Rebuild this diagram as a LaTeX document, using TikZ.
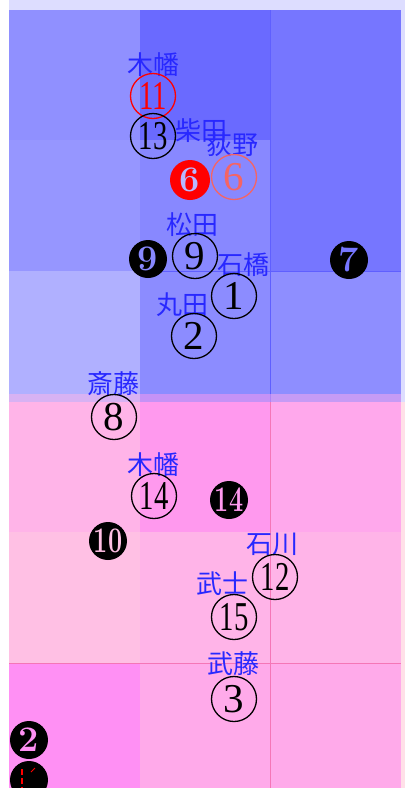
\documentclass[tikz,border=0pt]{standalone}
\usepackage{fontspec}
\newfontfamily\cjk{Noto Sans CJK JP}
\newfontfamily\dig{Liberation Serif}
\definecolor{lblue}{RGB}{40,40,255}
\definecolor{lav}{RGB}{221,221,255}
\definecolor{lpink}{RGB}{255,224,232}
\definecolor{bA}{RGB}{144,144,255}
\definecolor{bB}{RGB}{106,106,255}
\definecolor{bC}{RGB}{118,118,255}
\definecolor{bD}{RGB}{150,150,255}
\definecolor{bE}{RGB}{136,136,255}
\definecolor{bF}{RGB}{176,176,255}
\definecolor{bG}{RGB}{140,140,255}
\definecolor{bH}{RGB}{142,142,255}
\definecolor{pA}{RGB}{255,180,232}
\definecolor{pB}{RGB}{255,153,238}
\definecolor{pC}{RGB}{255,168,236}
\definecolor{pD}{RGB}{255,192,228}
\definecolor{pE}{RGB}{255,180,232}
\definecolor{pF}{RGB}{255,144,244}
\definecolor{pG}{RGB}{255,170,234}
\definecolor{salmon}{RGB}{245,100,100}
\tikzset{
  lbl/.style={text=lblue,inner sep=0pt,font=\cjk\fontsize{26}{26}\selectfont},
  ring/.style={circle,draw,line width=1.3pt,minimum size=45pt,inner sep=0pt,font=\dig\fontsize{41}{41}\selectfont},
  disc/.style={circle,fill=black,minimum size=38pt,inner sep=0pt,font=\bfseries\fontsize{36}{36}\selectfont},
  gline/.style={line width=0.8pt}
}
\newcommand{\nn}[1]{\scalebox{0.7}[1]{#1}}
\begin{document}
\begin{tikzpicture}[x=1pt,y=-1pt]
\useasboundingbox (0,0) rectangle (405,788);
\fill[white] (0,0) rectangle (405,788);
\fill[lav] (9,0) rectangle (405,10);
\fill[lav] (401,0) rectangle (405,402);
\fill[lpink] (401,402) rectangle (405,788);
% blue half
\fill[bA] (9,10) rectangle (140,140);
\fill[bB] (140,10) rectangle (270,140);
\fill[bC] (270,10) rectangle (401,271);
\fill[bD] (9,140) rectangle (140,271);
\fill[bE] (140,140) rectangle (270,271);
\fill[bF] (9,271) rectangle (140,402);
\fill[bG] (140,271) rectangle (270,402);
\fill[bH] (270,271) rectangle (401,402);
\draw[gline,color=blue!30!bE] (270,10) -- (270,402);
\draw[gline,color=blue!30!bE] (140,271) -- (401,271);
% pink half
\fill[pA,opacity=0.5] (9,394) rectangle (140,402);
\fill[pB,opacity=0.5] (140,394) rectangle (270,402);
\fill[pC,opacity=0.5] (270,394) rectangle (401,402);
\fill[pA] (9,402) rectangle (140,532);
\fill[pB] (140,402) rectangle (270,532);
\fill[pC] (270,402) rectangle (401,532);
\fill[pD] (9,532) rectangle (140,663);
\fill[pE] (140,532) rectangle (401,663);
\fill[pF] (9,663) rectangle (140,788);
\fill[pG] (140,663) rectangle (401,788);
\draw[gline,color=magenta!35!pE] (270,402) -- (270,788);
\draw[gline,color=magenta!35!pE] (9,663) -- (401,663);
% labels
\node[lbl] (l1) at (153,65) {木幡};
\node[lbl] (l2) at (201,131) {柴田};
\node[lbl] (l3) at (232,145) {荻野};
\node[lbl] (l4) at (192,225) {松田};
\node[lbl] (l5) at (243,265) {石橋};
\node[lbl] (l6) at (182,305) {丸田};
\node[lbl] (l7) at (113,384) {斎藤};
\node[lbl] (l8) at (153,465) {木幡};
\node[lbl] (l9) at (272,544) {石川};
\node[lbl] (l10) at (222,584) {武士};
\node[lbl] (l11) at (233,664) {武藤};
% rings
\node[ring,draw=red,text=red] (r11) at (153,96) {\nn{11}};
\node[ring] (r13) at (153,136) {\nn{13}};
\node[ring,draw=salmon,text=salmon] (r6) at (234,177) {6};
\node[ring] (r9) at (195,256) {9};
\node[ring] (r1) at (234,296) {1};
\node[ring] (r2) at (194,336) {2};
\node[ring] (r8) at (114,417) {8};
\node[ring] (r14) at (154,496) {\nn{14}};
\node[ring] (r12) at (275,577) {\nn{12}};
\node[ring] (r15) at (234,617) {\nn{15}};
\node[ring] (r3) at (234,699) {3};
% discs
\node[disc,fill=red,minimum size=40pt,text=bE!60!white] (d6) at (190,180) {6};
\node[disc,text=bE] (d9) at (148,259) {9};
\node[disc,text=bC] (d7) at (349,260) {7};
\node[disc,text=pB] (d14) at (229,500) {\nn{14}};
\node[disc,text=pD] (d10) at (108,541) {\nn{10}};
\node[disc,text=pF] (d2) at (29,740) {2};
\node[disc] (d0) at (29,780) {};
\draw[red,line width=1.3pt,dash pattern=on 6pt off 3pt] (22,769) -- (22,788);
\draw[red,line width=1pt] (31,772) -- (35,768);
\end{tikzpicture}
\end{document}
